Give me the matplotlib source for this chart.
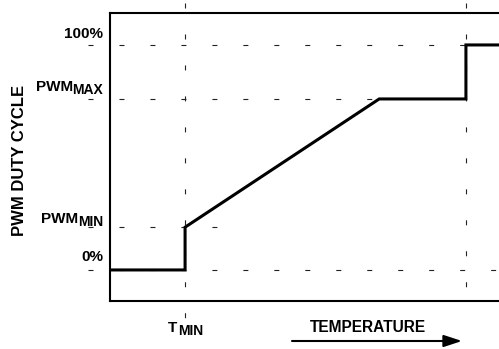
import matplotlib
matplotlib.use('Agg')
import matplotlib.pyplot as plt

plt.rcParams['font.family'] = ['Liberation Sans', 'DejaVu Sans']
plt.rcParams['lines.scale_dashes'] = False

# temperature in arbitrary units (0..100 across the plot), duty cycle in %
temp = [0, 19.3, 19.3, 69.2, 91.5, 91.5, 100]
duty = [0, 0, 19, 76, 76, 100, 100]
t_min = 19.3
t_ramp_end = 69.2
t_therm = 91.5
pwm_min = 19
pwm_max = 76

fig = plt.figure(figsize=(4.99, 3.49), dpi=100)
ax = fig.add_axes([110 / 499, 48 / 349, 389 / 499, 288 / 349])
ax.set_xlim(0, 100)
ax.set_ylim(-13.8, 114.2)
ax.spines['right'].set_visible(False)
for s in ['left', 'top', 'bottom']:
    ax.spines[s].set_linewidth(1.5)
ax.set_xticks([])
ax.set_yticks([])

dash = dict(color='#222222', lw=0.8, dashes=(3.6, 18.7), clip_on=False, zorder=1)
x0 = -5.7
ax.plot([x0, t_therm], [100, 100], **dash)
ax.plot([x0, t_ramp_end], [pwm_max, pwm_max], **dash)
ax.plot([x0, 28.3], [pwm_min, pwm_min], **dash)
ax.plot([x0, 100], [0, 0], **dash)
ax.plot([t_min, t_min], [118.7, -24.4], **dash)
ax.plot([t_therm, t_therm], [118.7, -13.8], **dash)

ax.plot(temp, duty, color='black', lw=2.2, solid_joinstyle='miter', zorder=3)

main_fs = 11
sub_fs = 10
lx = -1.8


def sub_label(x, y, main, sub):
    # subscript placed right-aligned, main text placed to its left
    st = ax.annotate(sub, xy=(x, y), xytext=(0, -2.2), textcoords='offset points',
                     ha='right', va='baseline', fontsize=sub_fs, fontweight='bold',
                     annotation_clip=False)
    ax.annotate(main, xy=(0, 0), xycoords=st, xytext=(0.3, 4.6), textcoords='offset points',
                ha='right', va='baseline', fontsize=main_fs, fontweight='bold')


ax.text(lx, 103.1, '100%', ha='right', va='baseline', fontsize=main_fs, fontweight='bold')
sub_label(lx, 79.6, 'PWM', 'MAX')
sub_label(lx, 20.9, 'PWM', 'MIN')
ax.text(lx, 4.0, '0%', ha='right', va='baseline', fontsize=main_fs, fontweight='bold')

# T_MIN under the axis
ax.annotate('T', xy=(t_min, -13.8), xytext=(-5.5, -22.3), textcoords='offset points',
            ha='right', va='baseline', fontsize=main_fs, fontweight='bold', annotation_clip=False)
ax.annotate('MIN', xy=(t_min, -13.8), xytext=(-5.2, -24.5), textcoords='offset points',
            ha='left', va='baseline', fontsize=sub_fs, fontweight='bold', annotation_clip=False)

fig.text(368 / 499, 1 - 327 / 349, 'TEMPERATURE', ha='center', va='center',
         fontsize=11.2, fontweight='bold')
ax.annotate('', xy=(462 / 499, 1 - 341 / 349), xytext=(292 / 499, 1 - 341 / 349),
            xycoords='figure fraction', textcoords='figure fraction',
            arrowprops=dict(arrowstyle='-|>,head_length=0.55,head_width=0.18',
                            mutation_scale=20, color='black', lw=1.5, shrinkA=0, shrinkB=0))

fig.text(20 / 499, 1 - 160 / 349, 'PWM DUTY CYCLE', rotation=90, ha='center', va='center',
         fontsize=12, fontweight='bold')

fig.savefig('out.png', dpi=100)
